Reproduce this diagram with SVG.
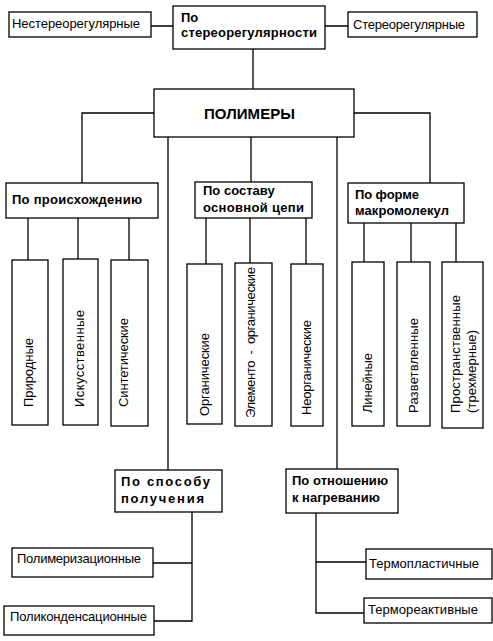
<svg xmlns="http://www.w3.org/2000/svg" width="493" height="641" viewBox="0 0 493 641">
<style>
rect{fill:#fff;stroke:#000;stroke-width:1.3}
.c path{fill:none;stroke:#000;stroke-width:1.3}
text{font-family:"Liberation Sans",Arial,sans-serif;font-size:13px;fill:#000}
.b{font-weight:bold}
.t{font-weight:bold;font-size:15px}
</style>
<rect x="0" y="0" width="493" height="641" style="fill:#fff;stroke:none"/>
<g class="c" id="connectors">
<path d="M151,26H173M325,26H348"/>
<path d="M253,49V89"/>
<path d="M154,113H82V183"/>
<path d="M354,113H430V183"/>
<path d="M168,137V470"/>
<path d="M251,137V182"/>
<path d="M337,137V469"/>
<path d="M28,218V260M78,218V259M129,218V260"/>
<path d="M206,218V264M250,218V263M306,218V264"/>
<path d="M364,223V262M411,223V262M456,223V262"/>
<path d="M192,512V621H154M192,563H153"/>
<path d="M316,513V613H364M316,562H366"/>
</g>
<g id="n-nestereo"><rect x="9" y="12" width="142" height="25"/><text x="12" y="28" textLength="128">Нестереорегулярные</text></g>
<g id="n-postereo"><rect x="173" y="6" width="152" height="43"/><text class="b" x="181" y="22">По</text><text class="b" x="181" y="37" textLength="136">стереорегулярности</text></g>
<g id="n-stereo"><rect x="348" y="12" width="129" height="25"/><text x="353" y="29" textLength="112">Стереорегулярные</text></g>
<g id="n-polymers"><rect x="154" y="89" width="200" height="48"/><text class="t" x="204" y="119" textLength="91">ПОЛИМЕРЫ</text></g>
<g id="n-origin"><rect x="6" y="183" width="152" height="35"/><text class="b" x="12" y="204" textLength="130">По происхождению</text></g>
<g id="n-chain"><rect x="195" y="182" width="117" height="36"/><text class="b" x="203" y="195">По составу</text><text class="b" x="203" y="212" textLength="101">основной цепи</text></g>
<g id="n-shape"><rect x="348" y="183" width="116" height="40"/><text class="b" x="355" y="199" textLength="64">По форме</text><text class="b" x="355" y="215" textLength="94">макромолекул</text></g>
<g id="n-natural"><rect x="12" y="260" width="36" height="165"/><text transform="translate(33,407) rotate(-90)" textLength="69">Природные</text></g>
<g id="n-artificial"><rect x="63" y="259" width="35" height="166"/><text transform="translate(84,407) rotate(-90)" textLength="97">Искусственные</text></g>
<g id="n-synthetic"><rect x="111" y="260" width="37" height="166"/><text transform="translate(128,407) rotate(-90)" textLength="89">Синтетические</text></g>
<g id="n-organic"><rect x="187" y="264" width="35" height="160"/><text transform="translate(209,416) rotate(-90)" textLength="83">Органические</text></g>
<g id="n-elementorganic"><rect x="235" y="263" width="37" height="163"/><text transform="translate(255,418) rotate(-90)" textLength="151" xml:space="preserve">Элементо  -  органические</text></g>
<g id="n-inorganic"><rect x="291" y="264" width="32" height="162"/><text transform="translate(311,415) rotate(-90)" textLength="95">Неорганические</text></g>
<g id="n-linear"><rect x="352" y="262" width="32" height="164"/><text transform="translate(372,413) rotate(-90)" textLength="60">Линейные</text></g>
<g id="n-branched"><rect x="397" y="262" width="33" height="164"/><text transform="translate(418,413) rotate(-90)" textLength="95">Разветвленные</text></g>
<g id="n-spatial"><rect x="442" y="262" width="41" height="166"/><text transform="translate(460,413) rotate(-90)" textLength="118">Пространственные</text><text transform="translate(476,413) rotate(-90)" textLength="83">(трехмерные)</text></g>
<g id="n-method"><rect x="115" y="470" width="107" height="42"/><text class="b" x="121" y="486" textLength="89">По способу</text><text class="b" x="121" y="503" textLength="83">получения</text></g>
<g id="n-heat"><rect x="286" y="469" width="112" height="44"/><text class="b" x="292" y="485" textLength="96">По отношению</text><text class="b" x="292" y="502">к нагреванию</text></g>
<g id="n-polymerization"><rect x="12" y="548" width="141" height="29"/><text x="17" y="563" textLength="124">Полимеризационные</text></g>
<g id="n-polycondensation"><rect x="4" y="606" width="150" height="29"/><text x="10" y="621" textLength="137">Поликонденсационные</text></g>
<g id="n-thermoplastic"><rect x="366" y="549" width="126" height="30"/><text x="369" y="568" textLength="110">Термопластичные</text></g>
<g id="n-thermoset"><rect x="364" y="598" width="128" height="25"/><text x="368" y="614" textLength="110">Термореактивные</text></g>
</svg>
